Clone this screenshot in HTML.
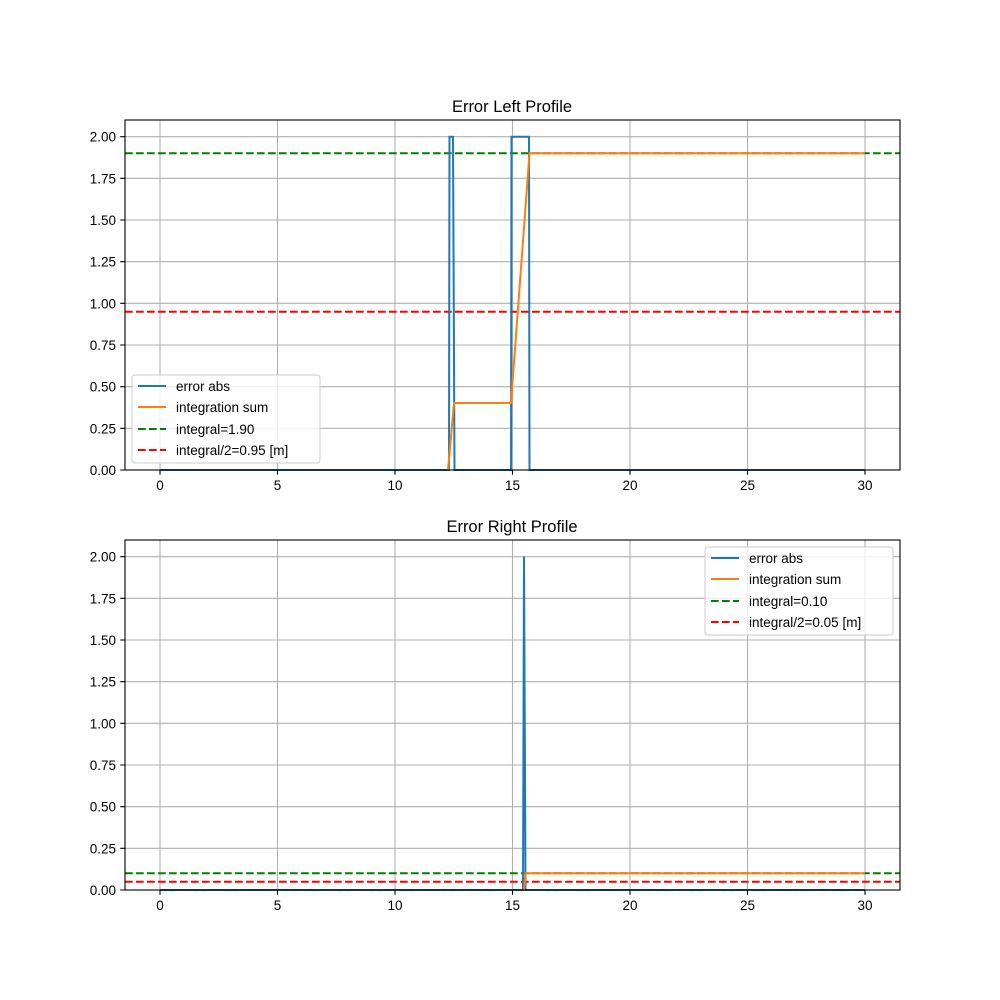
<!DOCTYPE html><html><head><style>body{margin:0;background:#fff}svg{display:block}text{font-family:"Liberation Sans","DejaVu Sans",sans-serif;font-size:13.5px;fill:#000}</style></head><body>
<svg width="1000" height="1000" xmlns="http://www.w3.org/2000/svg">
<rect width="1000" height="1000" fill="#fff"/>
<defs>
<g id="grid" stroke="#b0b0b0" stroke-width="1.1" fill="none">
<path d="M160 0V350M277.5 0V350M395 0V350M512.5 0V350M630 0V350M747.5 0V350M865 0V350"/>
<path d="M125 350H900M125 308.33H900M125 266.67H900M125 225H900M125 183.33H900M125 141.67H900M125 100H900M125 58.33H900M125 16.67H900"/>
</g>
<g id="ticks" stroke="#000" stroke-width="1.1">
<path d="M160 350v4.8M277.5 350v4.8M395 350v4.8M512.5 350v4.8M630 350v4.8M747.5 350v4.8M865 350v4.8"/>
<path d="M125 350h-4.8M125 308.33h-4.8M125 266.67h-4.8M125 225h-4.8M125 183.33h-4.8M125 141.67h-4.8M125 100h-4.8M125 58.33h-4.8M125 16.67h-4.8"/>
</g>
<g id="labels">
<g text-anchor="middle"><text x="160" y="370">0</text><text x="277.5" y="370">5</text><text x="395" y="370">10</text><text x="512.5" y="370">15</text><text x="630" y="370">20</text><text x="747.5" y="370">25</text><text x="865" y="370">30</text></g>
<g text-anchor="end"><text x="116" y="355">0.00</text><text x="116" y="313.3">0.25</text><text x="116" y="271.7">0.50</text><text x="116" y="230">0.75</text><text x="116" y="188.3">1.00</text><text x="116" y="146.7">1.25</text><text x="116" y="105">1.50</text><text x="116" y="63.3">1.75</text><text x="116" y="21.7">2.00</text></g>
</g>
</defs>
<!-- top -->
<g transform="translate(0,120)">
<use href="#grid"/>
<path d="M125 33.3H900" stroke="green" stroke-width="2" stroke-dasharray="7.7,3.3"/>
<path d="M125 191.7H900" stroke="red" stroke-width="2" stroke-dasharray="7.7,3.3"/>
<path d="M160 350H449L449.5 16.7H453L454.5 350H511L511.5 16.7H529L529.5 350H865" stroke="#1f77b4" stroke-width="2" fill="none"/>
<path d="M448 350L454 283H511L529.5 33.3H865" stroke="#ff7f0e" stroke-width="2" fill="none"/>
<rect x="125" y="0" width="775" height="350" fill="none" stroke="#000" stroke-width="1.1"/>
<use href="#ticks"/><use href="#labels"/>
<text x="512" y="-8" text-anchor="middle" style="font-size:16.5px">Error Left Profile</text>
<g transform="translate(132,255)">
<rect width="188" height="88" rx="3" fill="#fff" fill-opacity="0.8" stroke="#ccc"/>
<path d="M6 11h28" stroke="#1f77b4" stroke-width="2"/><text x="44" y="16">error abs</text>
<path d="M6 32h28" stroke="#ff7f0e" stroke-width="2"/><text x="44" y="37">integration sum</text>
<path d="M6 54h28" stroke="green" stroke-width="2" stroke-dasharray="7.7,3.3"/><text x="44" y="59">integral=1.90</text>
<path d="M6 75h28" stroke="red" stroke-width="2" stroke-dasharray="7.7,3.3"/><text x="44" y="80">integral/2=0.95 [m]</text>
</g>
</g>
<!-- bottom -->
<g transform="translate(0,540)">
<use href="#grid"/>
<path d="M125 333.3H900" stroke="green" stroke-width="2" stroke-dasharray="7.7,3.3"/>
<path d="M125 341.7H900" stroke="red" stroke-width="2" stroke-dasharray="7.7,3.3"/>
<path d="M160 350H523L524 16.7L525.5 350H865" stroke="#1f77b4" stroke-width="2" fill="none"/>
<path d="M524 350L525.5 333.3H865" stroke="#ff7f0e" stroke-width="2" fill="none"/>
<rect x="125" y="0" width="775" height="350" fill="none" stroke="#000" stroke-width="1.1"/>
<use href="#ticks"/><use href="#labels"/>
<text x="512" y="-8" text-anchor="middle" style="font-size:16.5px">Error Right Profile</text>
<g transform="translate(705,7)">
<rect width="188" height="88" rx="3" fill="#fff" fill-opacity="0.8" stroke="#ccc"/>
<path d="M6 11h28" stroke="#1f77b4" stroke-width="2"/><text x="44" y="16">error abs</text>
<path d="M6 32h28" stroke="#ff7f0e" stroke-width="2"/><text x="44" y="37">integration sum</text>
<path d="M6 54h28" stroke="green" stroke-width="2" stroke-dasharray="7.7,3.3"/><text x="44" y="59">integral=0.10</text>
<path d="M6 75h28" stroke="red" stroke-width="2" stroke-dasharray="7.7,3.3"/><text x="44" y="80">integral/2=0.05 [m]</text>
</g>
</g>
</svg>
</body></html>
